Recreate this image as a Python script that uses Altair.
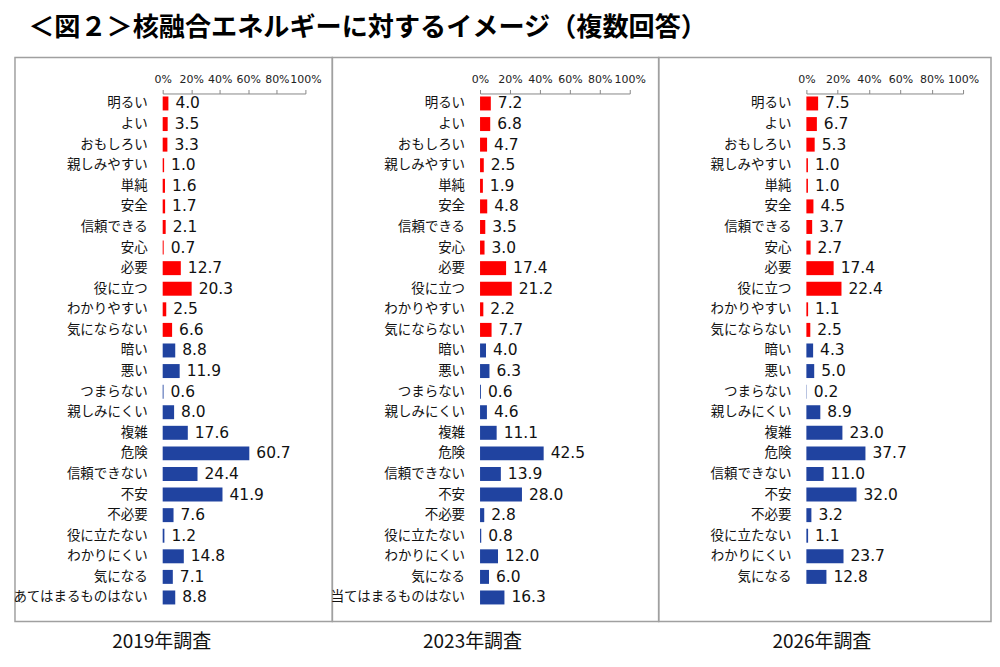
import altair as alt
import pandas as pd

JP = "Noto Sans CJK JP"
NUM = "DejaVu Sans"
RED = "#FF0000"
BLUE = "#2043A0"

cats_2019 = ["明るい", "よい", "おもしろい", "親しみやすい", "単純", "安全", "信頼できる", "安心",
             "必要", "役に立つ", "わかりやすい", "気にならない", "暗い", "悪い", "つまらない",
             "親しみにくい", "複雑", "危険", "信頼できない", "不安", "不必要", "役に立たない",
             "わかりにくい", "気になる", "あてはまるものはない"]
cats_2023 = cats_2019[:24] + ["当てはまるものはない"]
cats_2026 = cats_2019[:24]

vals_2019 = [4.0, 3.5, 3.3, 1.0, 1.6, 1.7, 2.1, 0.7, 12.7, 20.3, 2.5, 6.6, 8.8, 11.9, 0.6,
             8.0, 17.6, 60.7, 24.4, 41.9, 7.6, 1.2, 14.8, 7.1, 8.8]
vals_2023 = [7.2, 6.8, 4.7, 2.5, 1.9, 4.8, 3.5, 3.0, 17.4, 21.2, 2.2, 7.7, 4.0, 6.3, 0.6,
             4.6, 11.1, 42.5, 13.9, 28.0, 2.8, 0.8, 12.0, 6.0, 16.3]
vals_2026 = [7.5, 6.7, 5.3, 1.0, 1.0, 4.5, 3.7, 2.7, 17.4, 22.4, 1.1, 2.5, 4.3, 5.0, 0.2,
             8.9, 23.0, 37.7, 11.0, 32.0, 3.2, 1.1, 23.7, 12.8]

tick_values = [0, 20, 40, 60, 80, 100]
N_POSITIVE = 12

panel_titles = ["2019年調査", "2023年調査", "2026年調査"]


def panel(cats, vals, width, span, title, tdx):
    df = pd.DataFrame({
        "cat": cats,
        "val": vals,
        "sent": ["pos" if i < N_POSITIVE else "neg" for i in range(len(cats))],
    })
    step = 20.625
    y0 = 35.7
    y1 = y0 + step * len(cats)
    xscale = alt.Scale(domain=[0, 100], range=[148, 148 + span], nice=False)
    xaxis = alt.Axis(orient="top", values=tick_values, labelExpr="datum.value + '%'",
                     offset=-36, grid=False, title=None, domainColor="#888888",
                     tickColor="#888888", tickSize=4, labelFont=NUM, labelFontSize=11,
                     labelColor="#222222", labelPadding=5, labelFlush=False)
    y = alt.Y("cat:N", sort=cats, scale=alt.Scale(range=[y0, y1]), axis=None)

    bars = alt.Chart(df).mark_bar(size=14).encode(
        x=alt.X("val:Q", scale=xscale, axis=xaxis),
        y=y,
        color=alt.Color("sent:N", scale=alt.Scale(domain=["pos", "neg"], range=[RED, BLUE]),
                        legend=None),
    )
    vals_text = alt.Chart(df).mark_text(align="left", baseline="middle", dx=7, font=NUM,
                                        fontSize=15.5, color="#111111").encode(
        x=alt.X("val:Q", scale=xscale, axis=xaxis),
        y=y,
        text=alt.Text("val:Q", format=".1f"),
    )
    cat_text = alt.Chart(df).mark_text(align="right", baseline="middle", dx=-15, font=JP,
                                       fontSize=13.5, color="#111111").encode(
        x=alt.XDatum(0, scale=xscale, axis=xaxis),
        y=y,
        text="cat:N",
    )
    return alt.layer(bars, vals_text, cat_text).properties(
        width=width, height=565,
        title=alt.TitleParams(title, orient="bottom", font=JP, fontSize=19,
                              fontWeight="normal", color="#111111", offset=12, dx=tdx),
    )


p1 = panel(cats_2019, vals_2019, 318, 143, panel_titles[0], -12)
p2 = panel(cats_2023, vals_2023, 327, 150, panel_titles[1], -23)
p3 = panel(cats_2026, vals_2026, 333, 157, panel_titles[2], -3)

chart = alt.hconcat(p1, p2, p3, spacing=0, bounds="flush").properties(
    title=alt.TitleParams("＜図２＞核融合エネルギーに対するイメージ（複数回答）", anchor="start",
                          font=JP, fontSize=26.2, fontWeight="bold", color="#000000",
                          dx=16, offset=16),
    padding={"left": 4, "top": 6, "right": 0, "bottom": 0},
).configure_view(stroke="#A0A0A0", strokeWidth=1.5).configure_concat(spacing=0)

chart.save("out.html", embed_options={"renderer": "svg", "actions": False})
